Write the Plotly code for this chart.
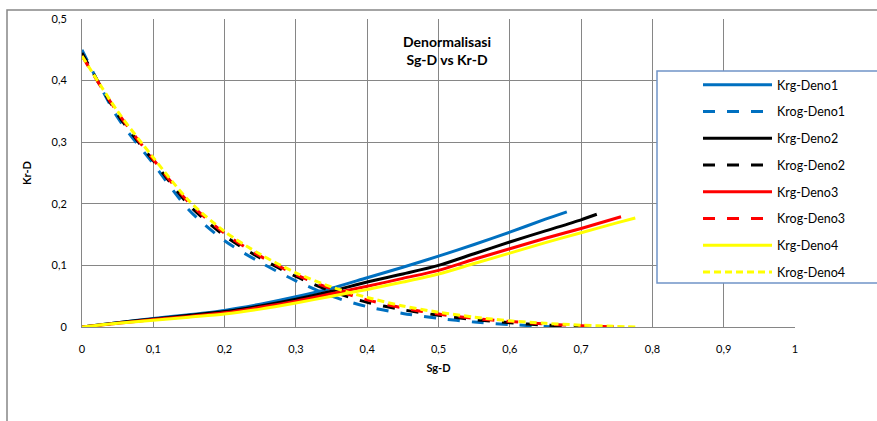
import plotly.graph_objects as go

# ---------------- data ----------------
sg_d1 = [0, 0.05, 0.1, 0.15, 0.2, 0.25, 0.3, 0.35, 0.4, 0.45, 0.5, 0.55, 0.6, 0.65, 0.68]
krg_d1 = [0, 0.007, 0.014, 0.020, 0.027, 0.037, 0.049, 0.063, 0.080, 0.097, 0.115, 0.134, 0.154, 0.175, 0.187]
krog_d1 = [0.45, 0.34, 0.265, 0.19, 0.14, 0.105, 0.075, 0.05, 0.033, 0.022, 0.014, 0.008, 0.004, 0.001, 0]

sg_d2 = [0, 0.05, 0.1, 0.15, 0.2, 0.25, 0.3, 0.35, 0.4, 0.45, 0.5, 0.55, 0.6, 0.65, 0.7, 0.722]
krg_d2 = [0, 0.007, 0.013, 0.019, 0.025, 0.034, 0.045, 0.058, 0.073, 0.086, 0.100, 0.119, 0.138, 0.156, 0.174, 0.183]
krog_d2 = [0.445, 0.345, 0.27, 0.198, 0.148, 0.112, 0.082, 0.058, 0.04, 0.028, 0.019, 0.012, 0.007, 0.003, 0.001, 0]

sg_d3 = [0, 0.05, 0.1, 0.15, 0.2, 0.25, 0.3, 0.35, 0.4, 0.45, 0.5, 0.55, 0.6, 0.65, 0.7, 0.756]
krg_d3 = [0, 0.006, 0.012, 0.017, 0.023, 0.032, 0.042, 0.054, 0.066, 0.079, 0.092, 0.110, 0.127, 0.144, 0.160, 0.179]
krog_d3 = [0.44, 0.348, 0.272, 0.202, 0.152, 0.115, 0.085, 0.062, 0.044, 0.031, 0.021, 0.014, 0.009, 0.005, 0.002, 0]

sg_d4 = [0, 0.05, 0.1, 0.15, 0.2, 0.25, 0.3, 0.35, 0.4, 0.45, 0.5, 0.55, 0.6, 0.65, 0.7, 0.75, 0.776]
krg_d4 = [0, 0.006, 0.011, 0.016, 0.021, 0.029, 0.039, 0.050, 0.061, 0.073, 0.086, 0.103, 0.120, 0.137, 0.153, 0.169, 0.177]
krog_d4 = [0.44, 0.35, 0.275, 0.205, 0.155, 0.118, 0.088, 0.065, 0.048, 0.034, 0.024, 0.016, 0.010, 0.006, 0.003, 0.001, 0]

x_ticks = [0, 0.1, 0.2, 0.3, 0.4, 0.5, 0.6, 0.7, 0.8, 0.9, 1]
y_ticks = [0, 0.1, 0.2, 0.3, 0.4, 0.5]

BLUE = "#0070C0"
BLACK = "#000000"
RED = "#FF0000"
YELLOW = "#FFFF00"
FONT = "Lato"

series = [
    ("Krg-Deno1", sg_d1, krg_d1, BLUE, "solid"),
    ("Krog-Deno1", sg_d1, krog_d1, BLUE, "12px,12px"),
    ("Krg-Deno2", sg_d2, krg_d2, BLACK, "solid"),
    ("Krog-Deno2", sg_d2, krog_d2, BLACK, "12px,12px"),
    ("Krg-Deno3", sg_d3, krg_d3, RED, "solid"),
    ("Krog-Deno3", sg_d3, krog_d3, RED, "12px,12px"),
    ("Krg-Deno4", sg_d4, krg_d4, YELLOW, "solid"),
    ("Krog-Deno4", sg_d4, krog_d4, YELLOW, "7px,4px"),
]

fig = go.Figure()
for name, xs, ys, col, dash in series:
    fig.add_trace(go.Scatter(
        x=xs, y=ys, name=name, mode="lines", legendgroup=name,
        line=dict(color=col, width=3, dash=dash, shape="spline", smoothing=0.8),
    ))

W, H = 877, 421
L, R, T, B = 82, 82, 19, 94
pw, ph = W - L - R, H - T - B

def px(xp):
    return (xp - L) / pw

def py(yp):
    return (H - B - yp) / ph

GRID = "#868686"
fig.update_layout(
    width=W, height=H,
    margin=dict(l=L, r=R, t=T, b=B, pad=0),
    paper_bgcolor="white", plot_bgcolor="white",
    separators=",.",
    font=dict(family=FONT, size=11, color="#000000"),
    showlegend=True,
    legend=dict(
        x=px(698), y=py(70), xanchor="left", yanchor="top",
        borderwidth=0, bgcolor="rgba(0,0,0,0)",
        font=dict(family=FONT, size=12.5, color="#000000"),
        tracegroupgap=7.5, traceorder="grouped", itemwidth=69,
    ),
    xaxis=dict(
        range=[0, 1], tickvals=x_ticks, showgrid=True, gridcolor=GRID, gridwidth=1,
        showline=True, linecolor=GRID, linewidth=1, mirror=False, zeroline=False,
        ticks="", ticklabelstandoff=12,
        title=dict(text="<b>Sg-D</b>", font=dict(family=FONT, size=11), standoff=10),
    ),
    yaxis=dict(
        range=[0, 0.5], tickvals=y_ticks, showgrid=True, gridcolor=GRID, gridwidth=1,
        showline=True, linecolor=GRID, linewidth=1, zeroline=False,
        ticks="", ticklabelstandoff=12,
        title=dict(text="<b>Kr-D</b>", font=dict(family=FONT, size=11), standoff=17),
    ),
    shapes=[
        dict(type="rect", xref="paper", yref="paper",
             x0=px(7), x1=px(W + 20), y0=py(H + 20), y1=py(10),
             line=dict(color=GRID, width=1.5), layer="below"),
        dict(type="rect", xref="paper", yref="paper",
             x0=px(657), x1=px(W + 20), y0=py(283), y1=py(71),
             line=dict(color="#7094C8", width=1.5), fillcolor="white", layer="above"),
    ],
    annotations=[dict(
        text="<b>Denormalisasi<br>Sg-D vs Kr-D</b>", xref="paper", yref="paper",
        x=px(447), y=py(50), xanchor="center", yanchor="middle", showarrow=False,
        font=dict(family=FONT, size=14, color="#000000"), align="center",
    )],
)

fig.write_html("out.html")
